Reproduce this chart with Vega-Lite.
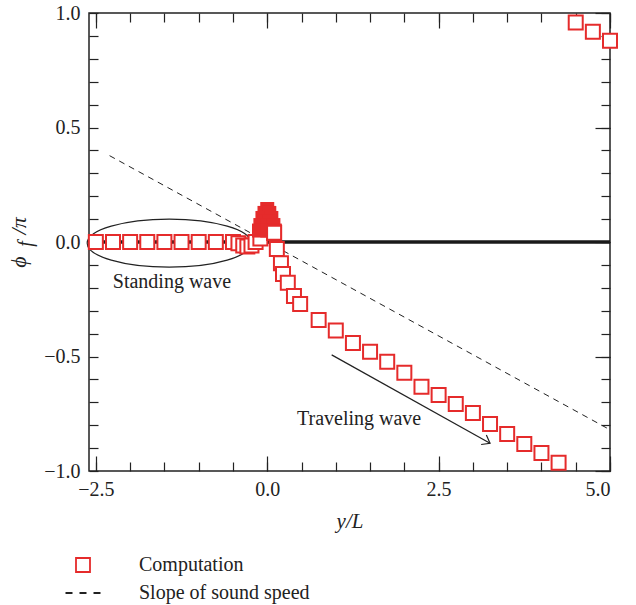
{
  "$schema": "https://vega.github.io/schema/vega-lite/v6.json",
  "width": 521,
  "height": 458,
  "autosize": {"type": "none"},
  "padding": {"left": 89, "top": 13, "right": 26, "bottom": 134},
  "background": "white",
  "config": {
    "view": {"stroke": "#222", "strokeWidth": 1.5},
    "font": "Liberation Serif",
    "axis": {"domain": false, "grid": false, "tickColor": "#222", "tickWidth": 1.2, "labelFont": "Liberation Serif", "labelFontSize": 20, "labelColor": "#222", "titleFont": "Liberation Serif", "titleFontSize": 21, "titleFontWeight": "normal", "titleFontStyle": "italic", "titleColor": "#222"},
    "legend": {"labelFont": "Liberation Serif"}
  },
  "datasets": {
    "comp": [
      {"x": -2.5, "y": 0.0, "series": "Computation"},
      {"x": -2.25, "y": 0.0, "series": "Computation"},
      {"x": -2.0, "y": 0.0, "series": "Computation"},
      {"x": -1.75, "y": 0.0, "series": "Computation"},
      {"x": -1.5, "y": 0.0, "series": "Computation"},
      {"x": -1.25, "y": 0.0, "series": "Computation"},
      {"x": -1.0, "y": 0.0, "series": "Computation"},
      {"x": -0.75, "y": 0.0, "series": "Computation"},
      {"x": -0.5, "y": 0.0, "series": "Computation"},
      {"x": -0.42, "y": -0.005, "series": "Computation"},
      {"x": -0.35, "y": -0.015, "series": "Computation"},
      {"x": -0.29, "y": -0.02, "series": "Computation"},
      {"x": -0.23, "y": -0.015, "series": "Computation"},
      {"x": -0.17, "y": 0.0, "series": "Computation"},
      {"x": -0.1, "y": 0.015, "series": "Computation"},
      {"x": 0.10, "y": 0.04, "series": "Computation"},
      {"x": 0.14, "y": -0.031, "series": "Computation"},
      {"x": 0.20, "y": -0.093, "series": "Computation"},
      {"x": 0.23, "y": -0.14, "series": "Computation"},
      {"x": 0.30, "y": -0.178, "series": "Computation"},
      {"x": 0.39, "y": -0.236, "series": "Computation"},
      {"x": 0.48, "y": -0.271, "series": "Computation"},
      {"x": 0.75, "y": -0.341, "series": "Computation"},
      {"x": 1.0, "y": -0.387, "series": "Computation"},
      {"x": 1.25, "y": -0.441, "series": "Computation"},
      {"x": 1.5, "y": -0.479, "series": "Computation"},
      {"x": 1.75, "y": -0.523, "series": "Computation"},
      {"x": 2.0, "y": -0.571, "series": "Computation"},
      {"x": 2.25, "y": -0.632, "series": "Computation"},
      {"x": 2.5, "y": -0.668, "series": "Computation"},
      {"x": 2.75, "y": -0.707, "series": "Computation"},
      {"x": 3.0, "y": -0.747, "series": "Computation"},
      {"x": 3.25, "y": -0.795, "series": "Computation"},
      {"x": 3.5, "y": -0.838, "series": "Computation"},
      {"x": 3.75, "y": -0.882, "series": "Computation"},
      {"x": 4.0, "y": -0.921, "series": "Computation"},
      {"x": 4.25, "y": -0.964, "series": "Computation"},
      {"x": 4.5, "y": 0.958, "series": "Computation"},
      {"x": 4.75, "y": 0.918, "series": "Computation"},
      {"x": 5.0, "y": 0.879, "series": "Computation"}
    ],
    "burst": [
      {"x": 0.0, "y": 0.144},
      {"x": -0.04, "y": 0.127},
      {"x": 0.03, "y": 0.127},
      {"x": -0.07, "y": 0.105},
      {"x": 0.06, "y": 0.105},
      {"x": -0.04, "y": 0.09},
      {"x": 0.03, "y": 0.09},
      {"x": -0.1, "y": 0.074},
      {"x": 0.0, "y": 0.074},
      {"x": 0.09, "y": 0.074},
      {"x": -0.12, "y": 0.05},
      {"x": 0.0, "y": 0.05},
      {"x": 0.11, "y": 0.05}
    ],
    "zero": [{"x": -2.6, "y": 0}, {"x": 5.0, "y": 0}],
    "slope": [{"x": -2.3, "y": 0.377}, {"x": 5.0, "y": -0.82}],
    "ellipse": [{"x": -1.43, "y": -0.005}],
    "arrow": [{"x": 0.94, "y": -0.493}, {"x": 3.25, "y": -0.879}],
    "arrowhead": [{"x": 3.25, "y": -0.879}],
    "notes": [
      {"x": -1.39, "y": -0.2, "label": "Standing wave"},
      {"x": 1.34, "y": -0.8, "label": "Traveling wave"}
    ],
    "sub": [{"x": -2.6, "y": 0, "label": "f"}]
  },
  "resolve": {"axis": {"x": "independent", "y": "independent"}},
  "layer": [
    {
      "data": {"name": "zero"},
      "mark": {"type": "line", "color": "#1a1a1a", "strokeWidth": 3.5},
      "encoding": {
        "x": {"field": "x", "type": "quantitative", "scale": {"domain": [-2.6, 5.0], "nice": false, "zero": false},
          "axis": {"orient": "bottom", "values": [-2.5, 0, 2.5, 5], "format": ".1f", "tickSize": -15, "labelPadding": 23, "labelFont": "Liberation Serif", "title": "y/L", "titlePadding": 11}},
        "y": {"field": "y", "type": "quantitative", "scale": {"domain": [-1, 1], "nice": false, "zero": false},
          "axis": {"orient": "left", "values": [-1, -0.9, -0.8, -0.7, -0.6, -0.5, -0.4, -0.3, -0.2, -0.1, 0, 0.1, 0.2, 0.3, 0.4, 0.5, 0.6, 0.7, 0.8, 0.9, 1], "labelExpr": "abs(datum.value * 2 - round(datum.value * 2)) < 0.001 ? format(datum.value, '.1f') : ''", "labelFont": "Liberation Serif", "tickSize": -9, "labelPadding": 18, "title": "ϕ\u2003/π", "titleFontSize": 22, "titlePadding": 13}}
      }
    },
    {
      "data": {"name": "slope"},
      "mark": {"type": "line", "color": "#222", "strokeWidth": 1, "strokeDash": [6, 5]},
      "encoding": {
        "x": {"field": "x", "type": "quantitative", "scale": {"domain": [-2.6, 5.0], "nice": false, "zero": false},
          "axis": {"orient": "bottom", "values": [-2.5, -2, -1.5, -1, -0.5, 0, 0.5, 1, 1.5, 2, 2.5, 3, 3.5, 4, 4.5, 5], "tickSize": -9, "labels": false, "title": null}},
        "y": {"field": "y", "type": "quantitative", "scale": {"domain": [-1, 1], "nice": false, "zero": false},
          "axis": {"orient": "right", "values": [-1, -0.9, -0.8, -0.7, -0.6, -0.5, -0.4, -0.3, -0.2, -0.1, 0, 0.1, 0.2, 0.3, 0.4, 0.5, 0.6, 0.7, 0.8, 0.9, 1], "tickSize": -9, "labels": false, "title": null}}
      }
    },
    {
      "data": {"name": "ellipse"},
      "mark": {"type": "point", "shape": "M -1 0 A 1 0.293 0 1 1 1 0 A 1 0.293 0 1 1 -1 0 Z", "size": 26896, "filled": false, "stroke": "#222", "strokeWidth": 1.2, "opacity": 1},
      "encoding": {
        "x": {"field": "x", "type": "quantitative", "scale": {"domain": [-2.6, 5.0], "nice": false, "zero": false},
          "axis": {"orient": "top", "values": [-2.5, 0, 2.5, 5], "tickSize": -15, "labels": false, "title": null}},
        "y": {"field": "y", "type": "quantitative", "scale": {"domain": [-1, 1], "nice": false, "zero": false},
          "axis": {"orient": "right", "values": [-1, -0.5, 0, 0.5, 1], "tickSize": -15, "labels": false, "title": null}}
      }
    },
    {
      "data": {"name": "arrow"},
      "mark": {"type": "line", "color": "#222", "strokeWidth": 1.2},
      "encoding": {
        "x": {"field": "x", "type": "quantitative", "scale": {"domain": [-2.6, 5.0], "nice": false, "zero": false},
          "axis": {"orient": "top", "values": [-2.5, -2, -1.5, -1, -0.5, 0, 0.5, 1, 1.5, 2, 2.5, 3, 3.5, 4, 4.5, 5], "tickSize": -9, "labels": false, "title": null}},
        "y": {"field": "y", "type": "quantitative", "scale": {"domain": [-1, 1], "nice": false, "zero": false}, "axis": null}
      }
    },
    {
      "data": {"name": "arrowhead"},
      "mark": {"type": "point", "shape": "M -1 -0.75 L 0 0 L -1 0.75", "size": 207, "angle": 29, "filled": false, "stroke": "#222", "strokeWidth": 1.2, "opacity": 1},
      "encoding": {
        "x": {"field": "x", "type": "quantitative", "scale": {"domain": [-2.6, 5.0], "nice": false, "zero": false}, "axis": null},
        "y": {"field": "y", "type": "quantitative", "scale": {"domain": [-1, 1], "nice": false, "zero": false}, "axis": null}
      }
    },
    {
      "data": {"name": "notes"},
      "mark": {"type": "text", "font": "Liberation Serif", "fontSize": 20, "color": "#222", "align": "center", "baseline": "alphabetic"},
      "encoding": {
        "x": {"field": "x", "type": "quantitative", "scale": {"domain": [-2.6, 5.0], "nice": false, "zero": false}, "axis": null},
        "y": {"field": "y", "type": "quantitative", "scale": {"domain": [-1, 1], "nice": false, "zero": false}, "axis": null},
        "text": {"field": "label"}
      }
    },
    {
      "data": {"name": "sub"},
      "mark": {"type": "text", "font": "Liberation Serif", "fontStyle": "italic", "fontSize": 20, "color": "#222", "align": "center", "baseline": "middle", "angle": 270, "dx": -2, "dy": -63, "clip": false},
      "encoding": {
        "x": {"field": "x", "type": "quantitative", "scale": {"domain": [-2.6, 5.0], "nice": false, "zero": false}, "axis": null},
        "y": {"field": "y", "type": "quantitative", "scale": {"domain": [-1, 1], "nice": false, "zero": false}, "axis": null},
        "text": {"field": "label"}
      }
    },
    {
      "data": {"name": "comp"},
      "mark": {"type": "point", "size": 196, "filled": false, "fill": "white", "strokeWidth": 2, "opacity": 1},
      "encoding": {
        "x": {"field": "x", "type": "quantitative", "scale": {"domain": [-2.6, 5.0], "nice": false, "zero": false}, "axis": null},
        "y": {"field": "y", "type": "quantitative", "scale": {"domain": [-1, 1], "nice": false, "zero": false}, "axis": null},
        "stroke": {"field": "series", "type": "nominal",
          "scale": {"domain": ["Computation", "Slope of sound speed"], "range": ["#e52b2b", "#222222"]},
          "legend": {"orient": "none", "legendX": -16, "legendY": 542, "title": null, "direction": "vertical", "labelFont": "Liberation Serif", "labelFontSize": 20, "labelColor": "#222", "labelLimit": 0, "symbolSize": 196, "symbolStrokeWidth": 1.8, "symbolFillColor": "white", "labelOffset": 46, "rowPadding": 7}},
        "shape": {"field": "series", "type": "nominal",
          "scale": {"domain": ["Computation", "Slope of sound speed"], "range": ["square", "M -2.5 0 L -1.5 0 M -0.5 0 L 0.5 0 M 1.5 0 L 2.5 0"]},
          "legend": {"orient": "none", "legendX": -16, "legendY": 542, "title": null, "direction": "vertical", "labelFont": "Liberation Serif", "labelFontSize": 20, "labelColor": "#222", "labelLimit": 0, "symbolSize": 196, "symbolStrokeWidth": 1.8, "symbolFillColor": "white", "labelOffset": 46, "rowPadding": 7}}
      }
    },
    {
      "data": {"name": "burst"},
      "mark": {"type": "point", "shape": "square", "size": 196, "filled": true, "color": "#e52b2b", "strokeWidth": 0, "opacity": 1},
      "encoding": {
        "x": {"field": "x", "type": "quantitative", "scale": {"domain": [-2.6, 5.0], "nice": false, "zero": false}, "axis": null},
        "y": {"field": "y", "type": "quantitative", "scale": {"domain": [-1, 1], "nice": false, "zero": false}, "axis": null}
      }
    },
    {
      "data": {"name": "comp"},
      "transform": [{"filter": "datum.x == 0.1"}],
      "mark": {"type": "point", "shape": "square", "size": 196, "filled": false, "fill": "white", "stroke": "#e52b2b", "strokeWidth": 2, "opacity": 1},
      "encoding": {
        "x": {"field": "x", "type": "quantitative", "scale": {"domain": [-2.6, 5.0], "nice": false, "zero": false}, "axis": null},
        "y": {"field": "y", "type": "quantitative", "scale": {"domain": [-1, 1], "nice": false, "zero": false}, "axis": null}
      }
    }
  ]
}
